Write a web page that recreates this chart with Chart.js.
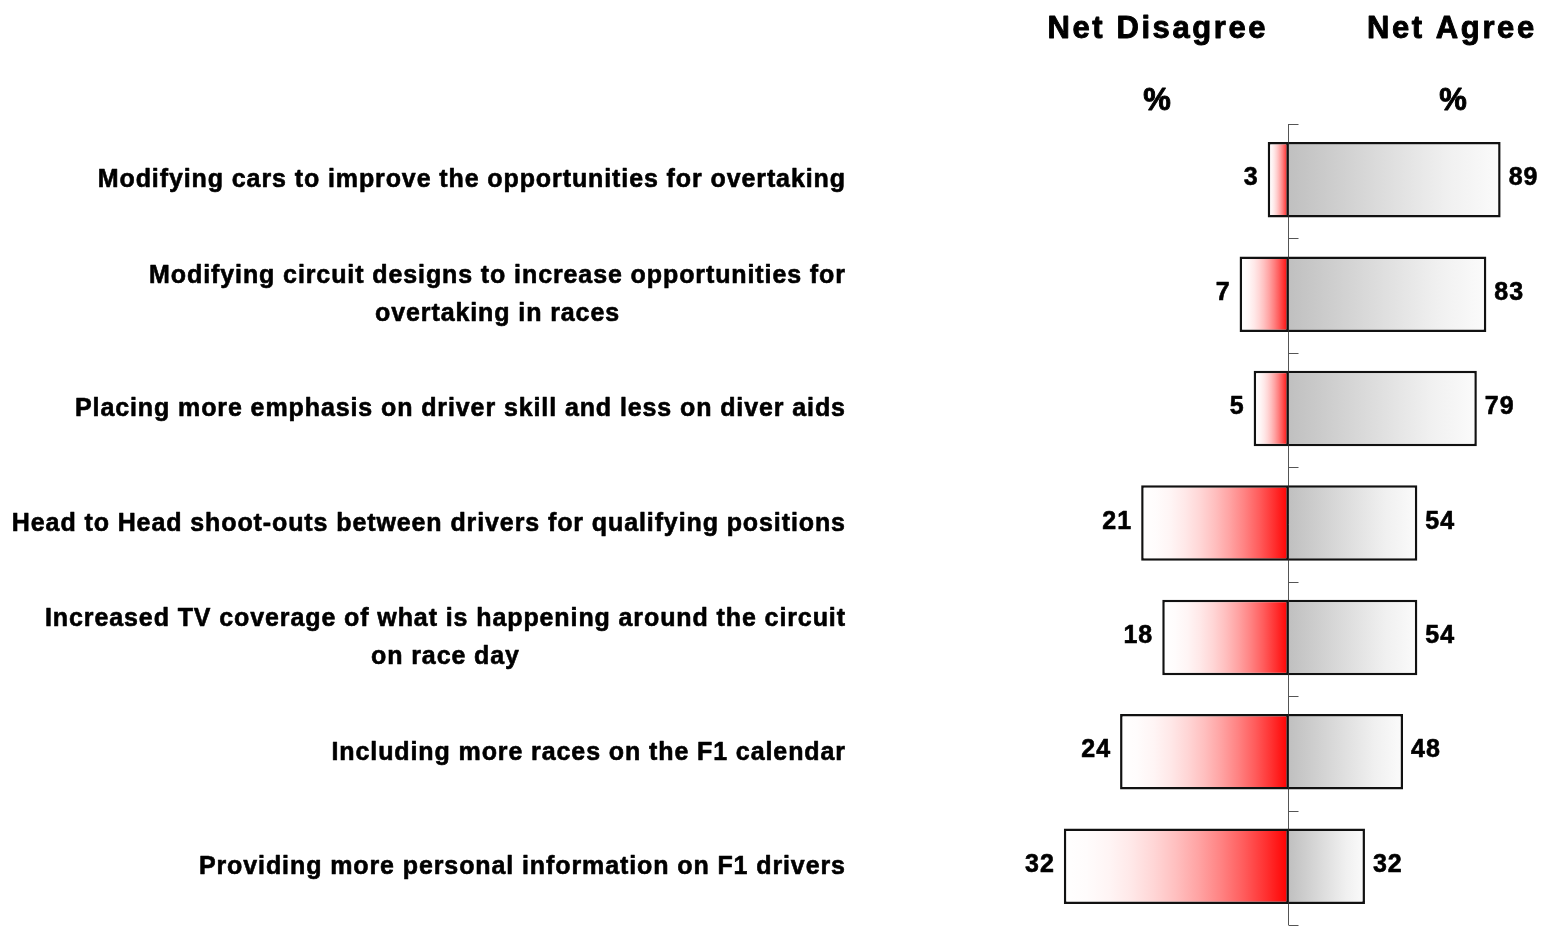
<!DOCTYPE html>
<html>
<head>
<meta charset="utf-8">
<title>Net Agree / Net Disagree</title>
<script src="https://cdn.jsdelivr.net/npm/chart.js@4.4.1/dist/chart.umd.min.js"></script>
<style>
  html, body { margin: 0; padding: 0; background: #ffffff; }
  #wrap { width: 1543px; height: 929px; position: relative; }
</style>
</head>
<body>
<div id="wrap"><canvas id="chart"></canvas></div>
<script>
// Statements (one entry per row; inner arrays are wrapped lines)
const categories = [
  ['Modifying cars to improve the opportunities for overtaking'],
  ['Modifying circuit designs to increase opportunities for', 'overtaking in races'],
  ['Placing more emphasis on driver skill and less on diver aids'],
  ['Head to Head shoot-outs between drivers for qualifying positions'],
  ['Increased TV coverage of what is happening around the circuit', 'on race day'],
  ['Including more races on the F1 calendar'],
  ['Providing more personal information on F1 drivers']
];

// Percentages
const netDisagree = [3, 7, 5, 21, 18, 24, 32];
const netAgree = [89, 83, 79, 54, 54, 48, 32];

// Column headings
const columnHeaders = ['Net Disagree', 'Net Agree'];
const unitLabel = '%';

const FONT = '"Liberation Sans", Arial, Helvetica, sans-serif';

function measureSpaced(ctx, text, spacing) {
  if ('letterSpacing' in ctx) {
    ctx.letterSpacing = spacing + 'px';
    const w = ctx.measureText(text).width - spacing;
    ctx.letterSpacing = '0px';
    return w;
  }
  return ctx.measureText(text).width + spacing * (text.length - 1);
}

// Text with letter spacing and a thin outline to give a heavier bold
function drawSpaced(ctx, text, x, y, align, spacing, weight) {
  const w = measureSpaced(ctx, text, spacing);
  let sx = align === 'left' ? x : (align === 'right' ? x - w : x - w / 2);
  ctx.textAlign = 'left';
  ctx.textBaseline = 'alphabetic';
  ctx.lineWidth = weight || 0;
  ctx.lineJoin = 'round';
  const paint = (t, px) => {
    ctx.fillText(t, px, y);
    if (weight) ctx.strokeText(t, px, y);
  };
  if ('letterSpacing' in ctx) {
    ctx.letterSpacing = spacing + 'px';
    paint(text, sx);
    ctx.letterSpacing = '0px';
  } else {
    for (const ch of text) {
      paint(ch, sx);
      sx += ctx.measureText(ch).width + spacing;
    }
  }
}

// Fill each bar with a gradient running from the zero line to the bar's end
function barGradient(context, stops) {
  const chart = context.chart;
  if (!chart.chartArea || context.dataIndex === undefined) return '#cccccc';
  const ds = context.dataset;
  const scale = chart.scales[ds.xAxisID];
  const x0 = scale.getPixelForValue(0);
  const x1 = scale.getPixelForValue(ds.data[context.dataIndex]);
  if (!isFinite(x0) || !isFinite(x1) || x0 === x1) return stops[0][1];
  const g = chart.ctx.createLinearGradient(x0, 0, x1, 0);
  stops.forEach(([t, c]) => g.addColorStop(t, c));
  return g;
}

const redStops = [];
for (let i = 0; i <= 10; i++) {
  const t = i / 10;
  const v = Math.round(255 * (1 - Math.pow(1 - t, 2)));
  redStops.push([t, `rgb(255,${v},${v})`]);
}
const greyStops = [
  [0, 'rgb(192,192,192)'],
  [0.25, 'rgb(208,208,208)'],
  [0.5, 'rgb(224,224,224)'],
  [0.75, 'rgb(240,240,240)'],
  [1, 'rgb(251,251,251)']
];

// Row boundaries sit a little below the bar centres
const TICK_SHIFT = 1.5;

// Vertical zero line with short ticks at each row boundary
const centreAxis = {
  id: 'centreAxis',
  beforeDatasetsDraw(chart) {
    const { ctx, chartArea } = chart;
    const x0 = Math.floor(chart.scales.xAgree.getPixelForValue(0)) + 0.5;
    const yScale = chart.scales.y;
    ctx.save();
    ctx.strokeStyle = '#555555';
    ctx.lineWidth = 1;
    ctx.beginPath();
    ctx.moveTo(x0, chartArea.top + TICK_SHIFT);
    ctx.lineTo(x0, chartArea.bottom + TICK_SHIFT);
    for (let i = 0; i <= categories.length; i++) {
      const y = Math.round(yScale.getPixelForValue(i - 0.5) + TICK_SHIFT) + 0.5;
      ctx.moveTo(x0, y);
      ctx.lineTo(x0 + 10, y);
    }
    ctx.stroke();
    ctx.restore();
  }
};

// Row labels, value labels and column headings
const textLayer = {
  id: 'textLayer',
  afterDatasetsDraw(chart) {
    const { ctx } = chart;
    const yScale = chart.scales.y;
    const x0 = chart.scales.xAgree.getPixelForValue(0);
    ctx.save();
    ctx.fillStyle = '#000000';
    ctx.strokeStyle = '#000000';

    // statements, right-aligned block, wrapped lines centred under the first
    ctx.font = `bold 25px ${FONT}`;
    const labelRight = 845;
    const lineGap = 37.5;
    categories.forEach((lab, i) => {
      const lines = Array.isArray(lab) ? lab : [lab];
      const widths = lines.map(l => measureSpaced(ctx, l, 0.9));
      const wmax = Math.max(...widths);
      const cx = labelRight - wmax / 2;
      const yc = yScale.getPixelForValue(i) + TICK_SHIFT;
      lines.forEach((l, j) => {
        const y = yc + 6.2 + (j - (lines.length - 1) / 2) * lineGap;
        drawSpaced(ctx, l, cx, y, 'center', 0.9, 0.6);
      });
    });

    // values at the outer end of each bar
    ctx.font = `bold 25px ${FONT}`;
    const metaD = chart.getDatasetMeta(0);
    const metaA = chart.getDatasetMeta(1);
    metaD.data.forEach((bar, i) => {
      drawSpaced(ctx, String(netDisagree[i]), bar.x - 10, bar.y + 5.5, 'right', 1, 0.6);
    });
    metaA.data.forEach((bar, i) => {
      drawSpaced(ctx, String(netAgree[i]), bar.x + 8, bar.y + 5.5, 'left', 1, 0.6);
    });

    // column headings
    ctx.font = `bold 31px ${FONT}`;
    const leftCol = x0 - 132.3;
    const rightCol = x0 + 161.7;
    drawSpaced(ctx, columnHeaders[0], leftCol, 38, 'center', 2.6, 0.9);
    drawSpaced(ctx, columnHeaders[1], rightCol, 38, 'center', 2.6, 0.9);
    drawSpaced(ctx, unitLabel, leftCol + 0.5, 110, 'center', 0, 0.9);
    drawSpaced(ctx, unitLabel, rightCol + 2.5, 110, 'center', 0, 0.9);
    ctx.restore();
  }
};

new Chart(document.getElementById('chart'), {
  type: 'bar',
  data: {
    labels: categories,
    datasets: [
      {
        label: columnHeaders[0],
        data: netDisagree.map(v => -v),
        xAxisID: 'xDisagree',
        yAxisID: 'y',
        backgroundColor: c => barGradient(c, redStops),
        borderColor: '#111111',
        borderWidth: 2.5,
        borderSkipped: false,
        grouped: false,
        barPercentage: 0.66,
        categoryPercentage: 1
      },
      {
        label: columnHeaders[1],
        data: netAgree,
        xAxisID: 'xAgree',
        yAxisID: 'y',
        backgroundColor: c => barGradient(c, greyStops),
        borderColor: '#111111',
        borderWidth: 2.5,
        borderSkipped: 'start',
        grouped: false,
        barPercentage: 0.66,
        categoryPercentage: 1
      }
    ]
  },
  options: {
    indexAxis: 'y',
    responsive: true,
    maintainAspectRatio: false,
    animation: false,
    layout: { padding: { left: 960, right: 0, top: 122.5, bottom: 5.5 } },
    scales: {
      xDisagree: { type: 'linear', axis: 'x', min: -46.77, max: 36.16, display: false },
      xAgree: { type: 'linear', axis: 'x', min: -138.15, max: 106.8, display: false },
      y: { type: 'category', display: false, offset: true, grid: { offset: true } }
    },
    plugins: {
      legend: { display: false },
      tooltip: { enabled: false },
      title: { display: false }
    }
  },
  plugins: [centreAxis, textLayer]
});
</script>
</body>
</html>
